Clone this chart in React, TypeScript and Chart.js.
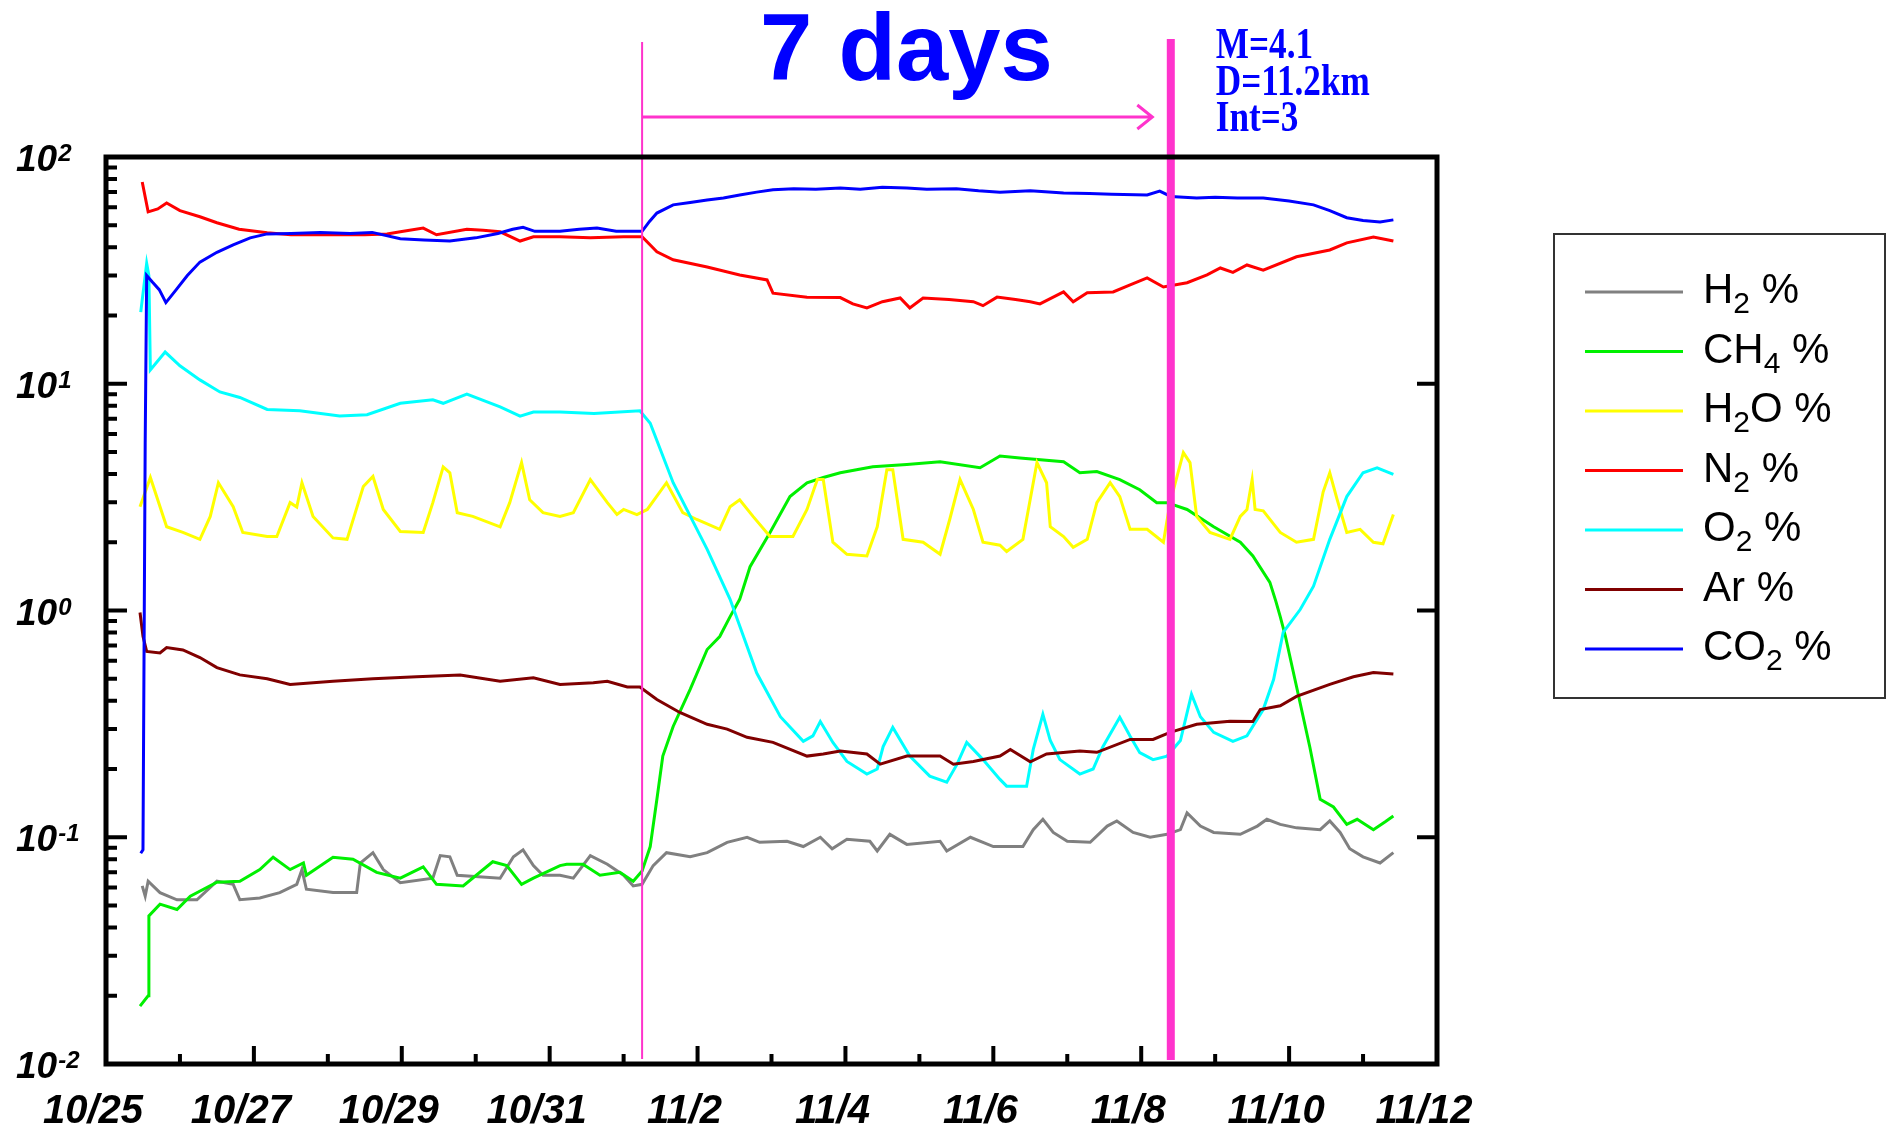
import React, { useEffect, useRef } from 'react';
import { Chart, registerables } from 'chart.js';

Chart.register(...registerables);

const W = 1892;
const H = 1133;

// ---------- data (x = days since 10/25 00:00, y = %) ----------
const seriesNames = ['H2 %', 'CH4 %', 'H2O %', 'N2 %', 'O2 %', 'Ar %', 'CO2 %'];
const seriesColors = ['#808080', '#00f000', '#ffff00', '#ff0000', '#00ffff', '#800000', '#0000ff'];

const h2Data = [
  [0.49, 0.061], [0.53, 0.055], [0.57, 0.064], [0.73, 0.057], [0.96, 0.053], [1.23, 0.053], [1.5, 0.064],
  [1.72, 0.062], [1.81, 0.053], [2.08, 0.054], [2.35, 0.057], [2.58, 0.062], [2.65, 0.072], [2.71, 0.059],
  [3.07, 0.057], [3.39, 0.057], [3.44, 0.077], [3.61, 0.0855], [3.75, 0.072], [3.98, 0.063], [4.42, 0.066],
  [4.52, 0.083], [4.65, 0.082], [4.75, 0.068], [5.33, 0.066], [5.51, 0.082], [5.64, 0.088], [5.78, 0.075],
  [5.91, 0.068], [6.14, 0.068], [6.32, 0.066], [6.55, 0.083], [6.78, 0.076], [7.0, 0.068], [7.13, 0.061],
  [7.25, 0.062], [7.4, 0.075], [7.58, 0.0855], [7.9, 0.082], [8.13, 0.0855], [8.4, 0.095], [8.67, 0.1],
  [8.84, 0.095], [9.21, 0.096], [9.43, 0.091], [9.66, 0.1], [9.82, 0.089], [10.02, 0.098], [10.33, 0.096],
  [10.43, 0.087], [10.6, 0.103], [10.83, 0.093], [11.28, 0.096], [11.37, 0.087], [11.69, 0.1], [12.0, 0.091],
  [12.4, 0.091], [12.54, 0.108], [12.67, 0.12], [12.81, 0.105], [13.0, 0.096], [13.31, 0.095], [13.54, 0.112],
  [13.67, 0.118], [13.89, 0.105], [14.12, 0.1], [14.35, 0.103], [14.53, 0.108], [14.62, 0.128], [14.8, 0.112],
  [14.98, 0.105], [15.34, 0.103], [15.57, 0.112], [15.7, 0.12], [15.88, 0.114], [16.1, 0.11], [16.42, 0.108],
  [16.55, 0.118], [16.69, 0.105], [16.82, 0.089], [17.0, 0.082], [17.23, 0.077], [17.41, 0.0855],
];

const ch4Data = [
  [0.46, 0.018], [0.57, 0.02], [0.58, 0.045], [0.73, 0.0507], [0.96, 0.048], [1.14, 0.055], [1.5, 0.0634],
  [1.81, 0.064], [2.08, 0.072], [2.26, 0.0816], [2.49, 0.072], [2.67, 0.077], [2.71, 0.068], [3.07, 0.0816],
  [3.34, 0.08], [3.66, 0.07], [3.98, 0.066], [4.29, 0.074], [4.47, 0.062], [4.83, 0.061], [5.23, 0.078],
  [5.42, 0.075], [5.62, 0.062], [5.78, 0.066], [6.14, 0.075], [6.23, 0.076], [6.45, 0.076], [6.68, 0.068],
  [6.95, 0.07], [7.13, 0.064], [7.25, 0.071], [7.36, 0.091], [7.45, 0.147], [7.53, 0.228], [7.67, 0.308],
  [7.9, 0.449], [8.13, 0.673], [8.3, 0.768], [8.44, 0.94], [8.57, 1.12], [8.71, 1.56], [8.98, 2.21],
  [9.25, 3.18], [9.48, 3.66], [9.7, 3.86], [9.93, 4.05], [10.37, 4.3], [10.83, 4.4], [11.28, 4.53],
  [11.82, 4.26], [12.09, 4.8], [12.36, 4.7], [12.95, 4.53], [13.17, 4.05], [13.4, 4.1], [13.71, 3.78],
  [13.98, 3.41], [14.21, 2.99], [14.35, 2.99], [14.62, 2.79], [14.98, 2.34], [15.34, 2.0], [15.51, 1.74],
  [15.74, 1.33], [15.82, 1.1], [15.88, 0.94], [15.95, 0.77], [16.1, 0.462], [16.28, 0.25], [16.42, 0.147],
  [16.6, 0.136], [16.78, 0.114], [16.92, 0.12], [17.14, 0.108], [17.3, 0.117], [17.41, 0.124],
];

const h2oData = [
  [0.46, 2.87], [0.6, 3.86], [0.82, 2.34], [1.04, 2.21], [1.27, 2.06], [1.41, 2.6], [1.52, 3.66], [1.72, 2.87],
  [1.85, 2.21], [2.18, 2.12], [2.31, 2.12], [2.49, 2.99], [2.58, 2.86], [2.65, 3.66], [2.8, 2.6], [3.07, 2.09],
  [3.26, 2.06], [3.48, 3.52], [3.61, 3.9], [3.75, 2.79], [3.98, 2.23], [4.29, 2.21], [4.42, 2.99], [4.56, 4.3],
  [4.65, 4.05], [4.75, 2.7], [4.96, 2.6], [5.33, 2.34], [5.46, 2.99], [5.62, 4.49], [5.73, 3.08], [5.91, 2.7],
  [6.14, 2.6], [6.32, 2.7], [6.55, 3.78], [6.78, 2.99], [6.91, 2.65], [7.0, 2.79], [7.18, 2.65], [7.32, 2.79],
  [7.58, 3.66], [7.8, 2.7], [7.99, 2.52], [8.3, 2.28], [8.44, 2.87], [8.57, 3.08], [8.75, 2.6], [8.98, 2.12],
  [9.29, 2.12], [9.48, 2.79], [9.62, 3.78], [9.7, 3.78], [9.83, 2.0], [10.02, 1.77], [10.29, 1.74],
  [10.43, 2.34], [10.56, 4.18], [10.64, 4.18], [10.78, 2.06], [11.05, 2.0], [11.28, 1.77], [11.41, 2.52],
  [11.55, 3.78], [11.73, 2.79], [11.86, 2.0], [12.09, 1.94], [12.18, 1.82], [12.4, 2.06], [12.59, 4.49],
  [12.72, 3.66], [12.77, 2.34], [12.95, 2.12], [13.08, 1.9], [13.27, 2.06], [13.4, 2.99], [13.58, 3.66],
  [13.71, 3.18], [13.85, 2.28], [14.08, 2.28], [14.3, 2.0], [14.39, 2.99], [14.57, 4.97], [14.66, 4.49],
  [14.75, 2.6], [14.93, 2.21], [15.2, 2.06], [15.34, 2.6], [15.43, 2.79], [15.5, 3.78], [15.54, 2.79],
  [15.65, 2.75], [15.88, 2.21], [16.1, 2.0], [16.33, 2.06], [16.46, 3.33], [16.55, 4.05], [16.65, 3.08],
  [16.78, 2.21], [16.96, 2.28], [17.14, 2.0], [17.27, 1.97], [17.41, 2.65],
];

const n2Data = [
  [0.49, 77.6], [0.57, 57.3], [0.7, 59], [0.82, 62.7], [1.0, 58], [1.27, 54.5], [1.5, 51.3], [1.8, 48],
  [2.18, 46.3], [2.5, 45.4], [3.0, 45.4], [3.5, 45.4], [3.8, 45.8], [3.98, 46.8], [4.29, 48.6], [4.47, 45.4],
  [4.88, 48], [5.1, 47.5], [5.33, 46.8], [5.6, 42.6], [5.78, 44.5], [6.14, 44.5], [6.55, 44], [7.0, 44.5],
  [7.25, 44.5], [7.45, 38.2], [7.67, 35.2], [8.13, 32.7], [8.57, 30.2], [8.94, 28.7], [9.02, 25.1],
  [9.48, 24.1], [9.93, 24], [10.1, 22.5], [10.29, 21.6], [10.5, 23], [10.74, 23.9], [10.87, 21.6],
  [11.05, 23.9], [11.4, 23.5], [11.73, 23], [11.86, 22.1], [12.05, 24.1], [12.3, 23.5], [12.5, 23],
  [12.63, 22.5], [12.95, 25.4], [13.08, 23], [13.27, 25.2], [13.62, 25.4], [13.85, 27.3], [14.08, 29.3],
  [14.3, 26.7], [14.62, 27.9], [14.89, 30.2], [15.07, 32.4], [15.24, 31], [15.43, 33.4], [15.65, 31.7],
  [16.1, 36.3], [16.55, 38.9], [16.78, 41.8], [17.14, 44.4], [17.41, 42.6],
];

const o2Data = [
  [0.47, 20.7], [0.55, 34], [0.58, 30], [0.6, 11.5], [0.8, 13.8], [1.0, 12], [1.27, 10.4], [1.54, 9.2],
  [1.81, 8.7], [2.18, 7.7], [2.62, 7.6], [3.16, 7.2], [3.53, 7.3], [3.98, 8.2], [4.42, 8.5], [4.56, 8.2],
  [4.88, 9], [5.33, 7.9], [5.6, 7.2], [5.78, 7.5], [6.14, 7.5], [6.6, 7.4], [7.22, 7.6], [7.36, 6.7],
  [7.67, 3.66], [8.13, 1.86], [8.44, 1.12], [8.8, 0.53], [9.12, 0.34], [9.43, 0.265], [9.56, 0.28],
  [9.66, 0.324], [9.83, 0.262], [10.02, 0.216], [10.29, 0.19], [10.43, 0.2], [10.51, 0.251], [10.64, 0.305],
  [10.87, 0.228], [11.14, 0.186], [11.37, 0.175], [11.51, 0.21], [11.64, 0.262], [11.86, 0.22], [12.09, 0.18],
  [12.18, 0.168], [12.45, 0.168], [12.54, 0.244], [12.67, 0.348], [12.77, 0.267], [12.9, 0.22], [13.17, 0.19],
  [13.35, 0.2], [13.48, 0.25], [13.71, 0.338], [13.85, 0.279], [13.98, 0.236], [14.16, 0.22], [14.35, 0.228],
  [14.53, 0.267], [14.68, 0.427], [14.8, 0.34], [14.98, 0.29], [15.24, 0.265], [15.43, 0.28], [15.65, 0.366],
  [15.79, 0.496], [15.92, 0.8], [16.15, 1.01], [16.33, 1.28], [16.55, 2.06], [16.78, 3.18], [17.0, 4.05],
  [17.19, 4.26], [17.41, 3.98],
];

const arData = [
  [0.46, 0.98], [0.5, 0.77], [0.55, 0.66], [0.73, 0.65], [0.82, 0.687], [1.04, 0.67], [1.27, 0.62], [1.5, 0.56],
  [1.81, 0.52], [2.18, 0.5], [2.49, 0.472], [3.07, 0.487], [3.61, 0.5], [4.2, 0.51], [4.79, 0.52], [5.33, 0.487],
  [5.78, 0.505], [6.14, 0.472], [6.59, 0.48], [6.78, 0.487], [7.05, 0.46], [7.22, 0.46], [7.45, 0.405],
  [7.76, 0.355], [8.13, 0.315], [8.4, 0.3], [8.67, 0.276], [9.02, 0.262], [9.48, 0.228], [9.7, 0.233],
  [9.93, 0.24], [10.29, 0.233], [10.47, 0.21], [10.83, 0.228], [11.28, 0.228], [11.46, 0.21], [11.73, 0.216],
  [12.09, 0.228], [12.23, 0.244], [12.5, 0.215], [12.72, 0.233], [13.17, 0.24], [13.4, 0.237], [13.85, 0.27],
  [14.16, 0.27], [14.39, 0.29], [14.75, 0.315], [15.2, 0.325], [15.51, 0.324], [15.61, 0.366], [15.88, 0.38],
  [16.1, 0.418], [16.55, 0.472], [16.87, 0.51], [17.14, 0.533], [17.41, 0.525],
];

const co2Data = [
  [0.47, 0.085], [0.5, 0.088], [0.53, 5.5], [0.55, 30], [0.63, 28], [0.72, 26], [0.81, 22.8], [0.95, 26],
  [1.1, 30], [1.27, 34.4], [1.5, 38], [1.72, 41], [1.95, 44], [2.18, 45.8], [2.5, 46], [2.9, 46.5], [3.3, 46],
  [3.6, 46.5], [3.98, 43.6], [4.3, 43], [4.65, 42.6], [5.0, 44], [5.3, 46], [5.5, 48], [5.64, 49], [5.8, 47],
  [6.14, 47], [6.4, 48], [6.64, 48.6], [6.9, 47], [7.25, 47], [7.35, 52], [7.45, 56.6], [7.67, 61.5], [7.9, 63],
  [8.13, 64.6], [8.35, 66], [8.57, 68], [8.8, 70], [9.02, 71.7], [9.3, 72.5], [9.6, 72], [9.93, 73], [10.2, 72],
  [10.5, 73.5], [10.83, 73], [11.1, 72], [11.5, 72.5], [11.8, 71], [12.09, 70], [12.5, 71], [12.95, 69.4],
  [13.3, 69], [13.6, 68.5], [14.08, 68], [14.25, 70.7], [14.4, 67], [14.75, 66], [15.0, 66.5], [15.3, 66],
  [15.65, 66], [16.0, 64], [16.33, 61.5], [16.55, 58], [16.78, 54], [17.0, 52.5], [17.23, 51.7], [17.41, 52.8],
];

const seriesList = [h2Data, ch4Data, h2oData, n2Data, o2Data, arData, co2Data];

// axes
const xMin = 0;
const xMax = 18;
const xTickLabels = ['10/25', '10/27', '10/29', '10/31', '11/2', '11/4', '11/6', '11/8', '11/10', '11/12'];
const yMin = 0.01;
const yMax = 100;
const yTickExponents = [-2, -1, 0, 1, 2];

// annotation
const windowStartDay = 7.25;
const quakeDay = 14.4;
const arrowEndDay = 14.15;
const windowTitle = '7 days';
const quakeInfo = ['M=4.1', 'D=11.2km', 'Int=3'];

const PINK = '#ff33cc';
const SANS = '"Liberation Sans", Arial, sans-serif';
const SERIF = '"Liberation Serif", "Times New Roman", serif';

const overlayPlugin = {
  id: 'overlay',
  afterDatasetsDraw(chart: any) {
    const { ctx, chartArea: a, scales } = chart;
    const xs = scales.x;
    const ys = scales.y;
    ctx.save();

    // ---- pink markers ----
    const xStart = xs.getPixelForValue(windowStartDay);
    const xQuake = xs.getPixelForValue(quakeDay);
    const xArrow = xs.getPixelForValue(arrowEndDay);
    ctx.strokeStyle = PINK;
    ctx.lineCap = 'butt';
    ctx.lineWidth = 2;
    ctx.beginPath();
    ctx.moveTo(xStart, 42);
    ctx.lineTo(xStart, a.bottom - 5);
    ctx.stroke();
    ctx.lineWidth = 8;
    ctx.beginPath();
    ctx.moveTo(xQuake, 39);
    ctx.lineTo(xQuake, a.bottom - 4);
    ctx.stroke();
    // arrow
    ctx.lineWidth = 3;
    ctx.beginPath();
    ctx.moveTo(xStart, 117);
    ctx.lineTo(xArrow, 117);
    ctx.moveTo(xArrow - 15, 105);
    ctx.lineTo(xArrow, 117);
    ctx.lineTo(xArrow - 15, 129);
    ctx.stroke();

    // ---- annotation text ----
    ctx.fillStyle = '#0000ff';
    ctx.font = `bold 94px ${SANS}`;
    ctx.textAlign = 'center';
    ctx.textBaseline = 'alphabetic';
    ctx.fillText(windowTitle, (xStart + xQuake) / 2, 80);

    ctx.textAlign = 'left';
    ctx.font = `bold 44px ${SERIF}`;
    quakeInfo.forEach((t, i) => {
      ctx.save();
      ctx.translate(xQuake + 45, 58 + i * 36.5);
      ctx.scale(0.8, 1);
      ctx.fillText(t, 0, 0);
      ctx.restore();
    });

    // ---- frame ----
    ctx.strokeStyle = '#000';
    ctx.lineWidth = 5;
    ctx.lineJoin = 'miter';
    ctx.strokeRect(a.left, a.top, a.right - a.left, a.bottom - a.top);

    // ---- y ticks (inward) ----
    ctx.lineWidth = 4;
    ctx.lineCap = 'butt';
    ctx.beginPath();
    yTickExponents.forEach((e) => {
      const base = Math.pow(10, e);
      const yp = ys.getPixelForValue(base);
      ctx.moveTo(a.left, yp);
      ctx.lineTo(a.left + 21, yp);
      ctx.moveTo(a.right, yp);
      ctx.lineTo(a.right - 20, yp);
      if (e < yTickExponents[yTickExponents.length - 1]) {
        for (let k = 2; k <= 9; k++) {
          const ym = ys.getPixelForValue(k * base);
          ctx.moveTo(a.left, ym);
          ctx.lineTo(a.left + 11, ym);
        }
      }
    });
    // x ticks (inward)
    for (let d = xMin; d <= xMax; d++) {
      const xp = xs.getPixelForValue(d);
      const len = d % 2 === 0 ? 18 : 10;
      ctx.moveTo(xp, a.bottom);
      ctx.lineTo(xp, a.bottom - len);
    }
    ctx.stroke();

    // ---- y labels ----
    ctx.fillStyle = '#000';
    ctx.textAlign = 'left';
    yTickExponents.forEach((e) => {
      const yp = ys.getPixelForValue(Math.pow(10, e));
      ctx.font = `italic bold 37px ${SANS}`;
      ctx.fillText('10', 16, yp + 14);
      const w = ctx.measureText('10').width;
      ctx.font = `italic bold 24px ${SANS}`;
      ctx.fillText(String(e), 16 + w + 1, yp + 4);
    });

    // ---- x labels ----
    ctx.font = `italic bold 40px ${SANS}`;
    ctx.textAlign = 'center';
    xTickLabels.forEach((lab, i) => {
      const xp = xs.getPixelForValue(xMin + i * 2);
      ctx.fillText(lab, xp - 13, 1123);
    });

    // ---- legend ----
    ctx.lineWidth = 2;
    ctx.strokeStyle = '#333';
    ctx.strokeRect(1554, 234, 331, 464);
    chart.data.datasets.forEach((ds: any, i: number) => {
      const ly = 292 + i * 59.5;
      ctx.strokeStyle = ds.borderColor;
      ctx.lineWidth = 3;
      ctx.beginPath();
      ctx.moveTo(1585, ly);
      ctx.lineTo(1683, ly);
      ctx.stroke();
      let tx = 1703;
      ctx.fillStyle = '#000';
      ctx.textAlign = 'left';
      for (const ch of ds.label as string) {
        const sub = /\d/.test(ch);
        ctx.font = sub ? `30px ${SANS}` : `42px ${SANS}`;
        ctx.fillText(ch, tx, sub ? ly + 21 : ly + 11);
        tx += ctx.measureText(ch).width;
      }
    });

    ctx.restore();
  },
};

export default function App() {
  const canvasRef = useRef<HTMLCanvasElement | null>(null);

  useEffect(() => {
    const canvas = canvasRef.current;
    if (!canvas) return;
    const datasets = seriesList.map((s, i) => ({
      label: seriesNames[i],
      data: s.map(([d, v]) => ({ x: d, y: v })),
      borderColor: seriesColors[i],
      backgroundColor: seriesColors[i],
      borderWidth: 3,
      pointRadius: 0,
      tension: 0,
      fill: false,
      order: seriesList.length - 1 - i,
    }));
    const chart = new Chart(canvas, {
      type: 'line',
      data: { datasets },
      options: {
        responsive: false,
        maintainAspectRatio: false,
        animation: false,
        devicePixelRatio: 1,
        events: [],
        layout: { padding: { left: 106, top: 157, right: W - 1437, bottom: H - 1064 } },
        plugins: { legend: { display: false }, tooltip: { enabled: false } },
        scales: {
          x: { type: 'linear', min: xMin, max: xMax, display: false },
          y: { type: 'logarithmic', min: yMin, max: yMax, display: false },
        },
      },
      plugins: [overlayPlugin],
    } as any);
    return () => chart.destroy();
  }, []);

  return (
    <div style={{ position: 'absolute', left: 0, top: 0, width: W, height: H, background: '#fff' }}>
      <canvas ref={canvasRef} width={W} height={H} style={{ display: 'block', width: W, height: H }} />
    </div>
  );
}
